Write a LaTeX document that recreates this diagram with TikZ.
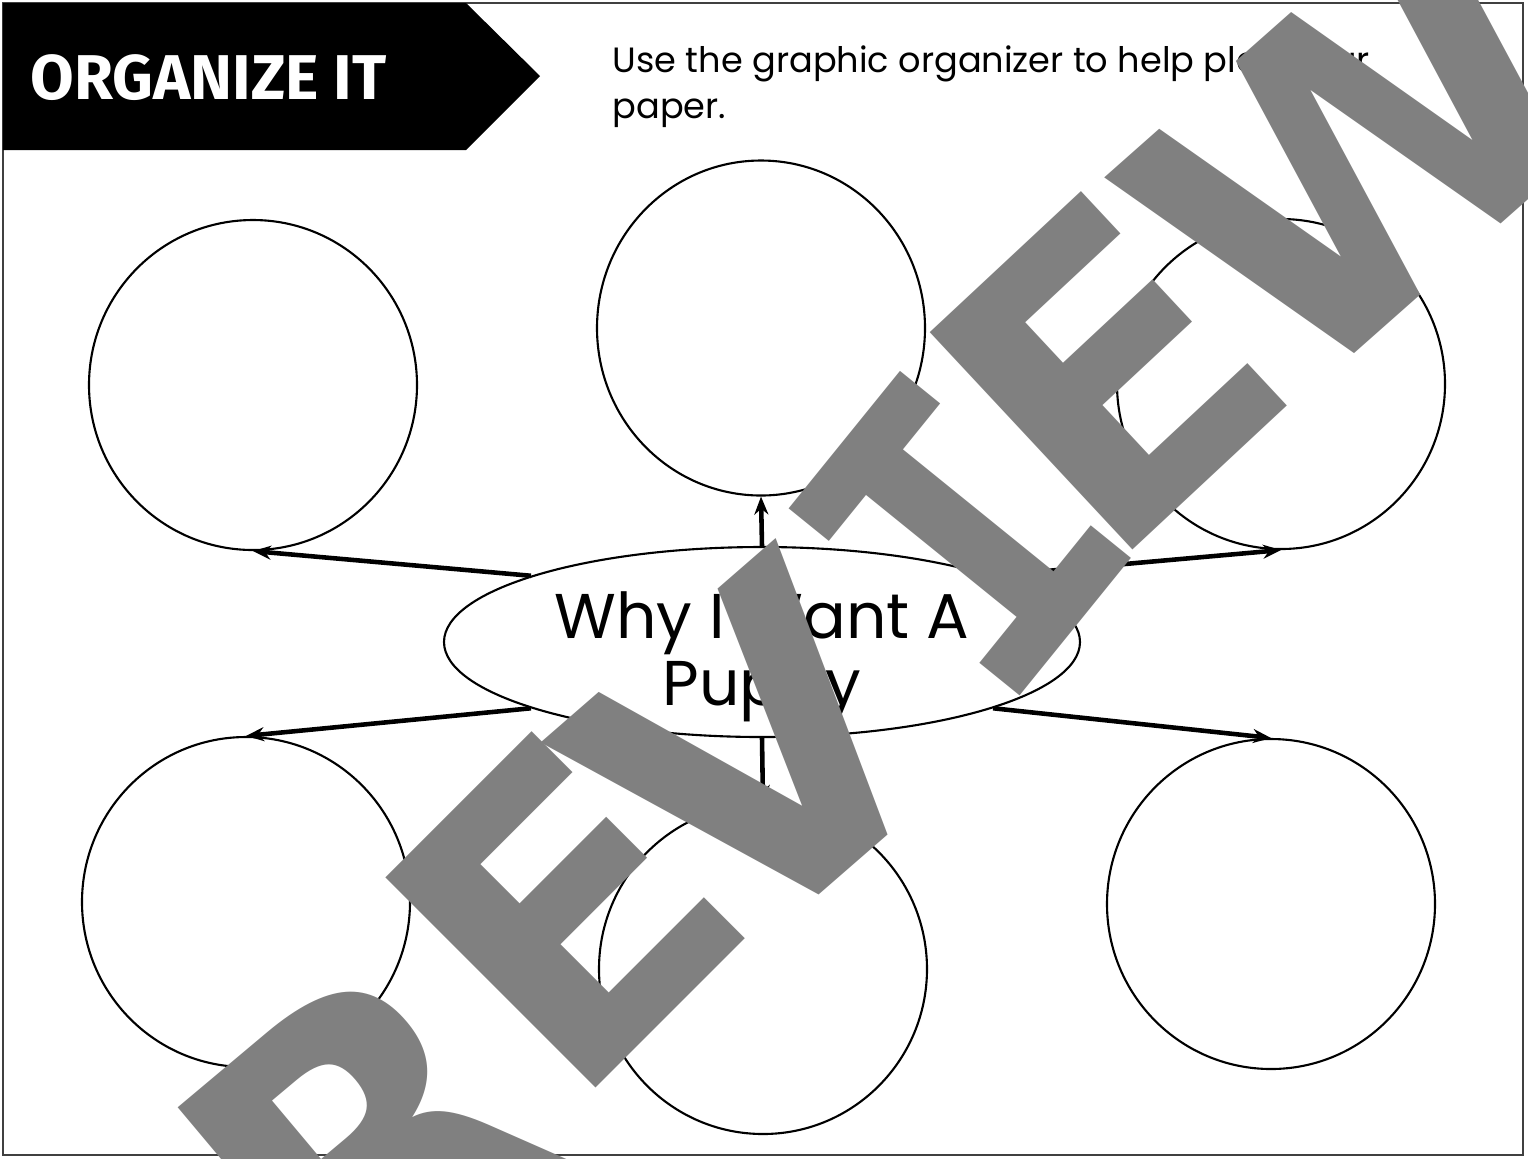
\documentclass[tikz,border=0pt]{standalone}
\usepackage{fontspec}
\setmainfont{Poppins}
\newfontfamily\bannerfont{Fira Sans}
\newfontfamily\markfont{DejaVu Sans}
\newfontfamily\markmono{DejaVu Sans Mono}
\usetikzlibrary{arrows.meta,shapes.geometric}
\definecolor{markgray}{RGB}{128,128,128}
\tikzset{
  bubble/.style={draw, ellipse, line width=0.6pt, minimum width=32.8mm, minimum height=33mm, inner sep=0pt},
  hubnode/.style={draw, ellipse, line width=0.6pt, minimum width=63.6mm, minimum height=19mm, inner sep=0pt},
  hubtext/.style={align=center, inner sep=0pt, font=\fontsize{18}{19}\selectfont},
  link/.style={->, line width=1.3pt},
  markletter/.style={inner sep=0pt, text=markgray, font=\markfont\bfseries\fontsize{116}{116}\selectfont},
}

\begin{document}
\begin{tikzpicture}[x=0.1mm, y=-0.1mm, >={Stealth[length=1.8mm,width=1.4mm]}]
  \useasboundingbox (0,0) rectangle (1528,1158);
  \clip (0,0) rectangle (1528,1158);
  % page frame
  \draw[line width=0.6pt, black!75] (3,3) rectangle (1523,1155);
  % banner
  \fill (3,3) -- (466,3) -- (540,76) -- (466,150) -- (3,150) -- cycle;
  \node[anchor=west, inner sep=0pt, text=white, font=\bannerfont\bfseries\fontsize{18}{18}\selectfont] (title) at (30,78) {ORGANIZE IT};
  \node[anchor=north west, align=left, inner sep=0pt, font=\fontsize{10}{13}\selectfont] (intro) at (612,45) {Use the graphic organizer to help plan your\\paper.};

  % bubbles
  \node[bubble] (tl) at (253,385) {};
  \node[bubble, minimum height=33.5mm] (tm) at (761,328) {};
  \node[bubble] (tr) at (1281,384) {};
  \node[bubble] (bl) at (246,902) {};
  \node[bubble] (bm) at (763,969) {};
  \node[bubble] (br) at (1271,904) {};
  \node[hubnode, label={[hubtext, name=hublabel, yshift=-1.5mm]center:Why I Want A\\Puppy}] (hub) at (762,642) {};

  % connectors
  \draw[link] (hub.north) -- (tm.south);
  \draw[link] (hub.164) -- (tl.south);
  \draw[link] (hub.16) -- (tr.south);
  \draw[link] (hub.196) -- (bl.north);
  \draw[link] (hub.-16) -- (br.north);
  \draw[link] (hub.south) -- (bm.north);

  % watermark
  \foreach \ch/\px/\py/\ang [count=\k] in {P/110/1380/40, R/365/1145/40, E/563/911/45, V/756/753/41, E/1106/372/43, W/1362/148/41.5}
    \node[markletter, rotate=\ang] (mark\k) at (\px,\py) {\ch};
  \node[markletter, font=\markmono\bfseries\fontsize{116}{116}\selectfont, rotate=51] (markI) at (960,534) {I};
\end{tikzpicture}
\end{document}
